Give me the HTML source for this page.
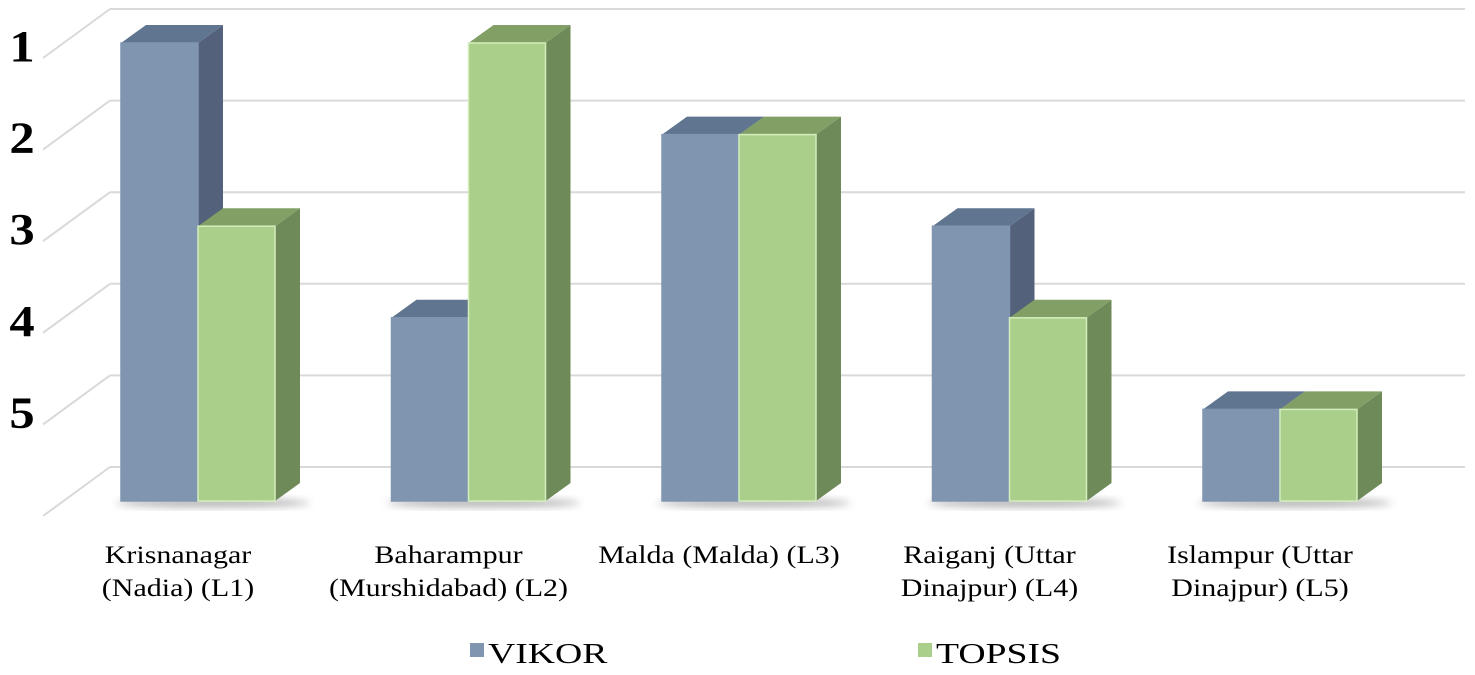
<!DOCTYPE html>
<html><head><meta charset="utf-8"><style>
body{margin:0;background:#fff;}
svg{display:block;font-family:"Liberation Serif",serif;}
</style></head><body>
<svg id="chart" width="1475" height="675">
<defs><filter id="sh" x="-20%" y="-50%" width="140%" height="200%"><feGaussianBlur stdDeviation="4"/></filter></defs>
<g id="grid"></g><g id="bars"></g><g id="labels"></g>
<g>
 <rect x="470" y="643" width="14" height="14" fill="#8096b0"/>
 <text transform="translate(488,663) scale(1.3,1)" font-size="29">VIKOR</text>
 <rect x="918" y="643" width="14" height="14" fill="#a9cf8a"/>
 <text transform="translate(936,663) scale(1.3,1)" font-size="29">TOPSIS</text>
</g>
</svg>
<script>
const categories=[["Krisnanagar","(Nadia) (L1)"],["Baharampur","(Murshidabad) (L2)"],["Malda (Malda) (L3)",""],["Raiganj (Uttar","Dinajpur) (L4)"],["Islampur (Uttar","Dinajpur) (L5)"]];
const vikor=[1,4,2,3,5];
const topsis=[3,1,2,4,5];
const ticks=[1,2,3,4,5];
const NS="http://www.w3.org/2000/svg";
const base=501, step=91.6, dx=25, dy=-18;
function y(v){return base-(6-v)*step;}
function gx(i){return 121+i*270.5;}
const bw=77;
function mk(t,a,p){const e=document.createElementNS(NS,t);for(const k in a)e.setAttribute(k,a[k]);p.appendChild(e);return e;}
const grid=document.getElementById('grid'),bars=document.getElementById('bars'),lab=document.getElementById('labels');
for(let k=0;k<=5;k++){
 const by=9+k*91.6;
 const l=mk('line',{x1:110,y1:by,x2:1465,y2:by,stroke:'#d9d9d9','stroke-width':2},grid);
 
 const d=mk('line',{x1:43,y1:by+49,x2:110,y2:by,stroke:'#d9d9d9','stroke-width':2},grid);
 
}
ticks.forEach((t)=>{const e=mk('text',{transform:`translate(22,${y(t)+18}) scale(1.15,1)`,'font-size':44,'font-weight':'bold','text-anchor':'middle'},lab);e.textContent=t;
 });
function bar(x,v,c,name){const g=mk('g',{},bars);
 const t=y(v);
 mk('path',{d:`M${x+bw} ${t}l${dx} ${dy}V${base+dy}l${-dx} ${-dy}z`,fill:c[2]},g);
 mk('path',{d:`M${x} ${t}l${dx} ${dy}h${bw}l${-dx} ${-dy}z`,fill:c[1]},g);
 mk('rect',{x:x,y:t,width:bw,height:base-t,fill:c[0],stroke:c[3],'stroke-width':1.5},g);}
categories.forEach((c,i)=>{const x=gx(i);
 const s=mk('ellipse',{cx:x+bw+15,cy:base+2,rx:bw+20,ry:4,fill:'#777',opacity:.6,filter:'url(#sh)'},bars);
 
 bar(x,vikor[i],['#8096b0','#5f7590','#53617a','#8096b0'],'bar-vikor-'+(i+1));
 bar(x+bw,topsis[i],['#a9cf8a','#82a066','#6d8a58','#d4edbd'],'bar-topsis-'+(i+1));
 c.forEach((ln,j)=>{if(!ln)return;const e=mk('text',{transform:`translate(${x+bw-20},${563+j*33}) scale(1.2,1)`,'font-size':25,'text-anchor':'middle'},lab);e.textContent=ln;
  });
});
</script>
</body></html>
